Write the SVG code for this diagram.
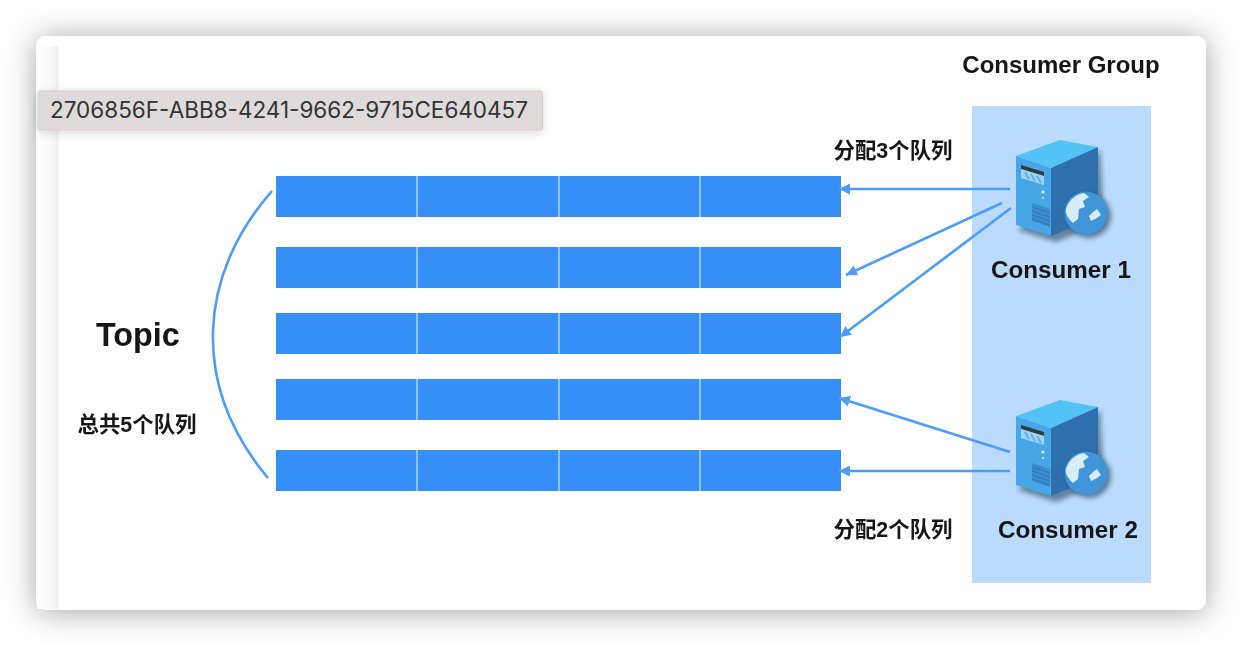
<svg xmlns="http://www.w3.org/2000/svg" width="1242" height="646" viewBox="0 0 1242 646">
<style>
.q{fill:#368ff7}
.d{stroke:#8fc1fb;stroke-width:2}
.c{fill:none;stroke:#4d9cf8;stroke-width:2.6}
.t{font-family:"Liberation Sans","Noto Sans CJK SC",sans-serif;font-weight:700;fill:#151515}
.z{font-size:21.400px}
.n{font-size:24.200px}
</style>
<defs>
<filter id="win" x="-10%" y="-15%" width="120%" height="130%"><feDropShadow dx="0" dy="2" stdDeviation="15" flood-color="#000" flood-opacity=".36"/></filter>
<filter id="tip" x="-5%" y="-30%" width="110%" height="170%"><feDropShadow dx="0" dy="2" stdDeviation="5" flood-color="#000" flood-opacity=".16"/></filter>
<filter id="sh" x="-20%" y="-20%" width="150%" height="150%"><feGaussianBlur stdDeviation="2.500"/></filter>
<filter id="soft" x="-5%" y="-5%" width="110%" height="110%"><feGaussianBlur stdDeviation=".5"/></filter>
<filter id="txt" x="-5%" y="-20%" width="110%" height="140%"><feGaussianBlur stdDeviation=".45"/></filter>
<linearGradient id="edge" x1="0" x2="1"><stop offset="0" stop-color="#fff"/><stop offset=".6" stop-color="#fafafa"/><stop offset=".96" stop-color="#f0f0f0"/><stop offset="1" stop-color="#fff"/></linearGradient>
<marker id="a" markerUnits="userSpaceOnUse" markerWidth="13" markerHeight="13" refX="11" refY="6.500" orient="auto"><path d="M11 6.500L0 1V12Z" fill="#4d9cf8"/></marker>
<g id="server" filter="url(#soft)">
<path d="M1100 150L1104 222L1056 242L1018 230Z" fill="#1d3a55" opacity=".55" filter="url(#sh)"/>
<path d="M1016 156L1060 140L1098 147L1051 168Z" fill="#53c3f6"/>
<path d="M1016 156L1051 168V236L1016 225Z" fill="#47a6e6"/>
<path d="M1051 168L1098 147V217L1051 236Z" fill="#2e6fad"/>
<path d="M1021 165L1044 172V176L1021 169Z" fill="#333a40"/>
<path d="M1021 169L1044 176V185L1021 178Z" fill="#9ed3f2"/>
<path d="M1025 172L1029 179M1031 174L1035 181M1037 176L1041 183" stroke="#5fb2e6" stroke-width="2"/>
<circle cx="1043" cy="192" r="1.6" fill="#d6f0fb"/><circle cx="1043" cy="198" r="1" fill="#d6f0fb"/>
<path d="M1032 203L1050 209V227L1032 221Z" fill="#3a8ccb"/>
<path d="M1032 207L1050 213M1032 211L1050 217M1032 215L1050 221M1032 219L1050 225" stroke="#2f78b5" stroke-width="1"/>
<circle cx="1089" cy="216" r="22" fill="#2b4863" opacity=".65" filter="url(#sh)"/>
<circle cx="1086" cy="213" r="21.500" fill="#3f95d9"/>
<path d="M1066 209C1069 199 1077 194 1084 193L1089 197L1083 201L1085 207L1079 209L1078 219L1073 223C1068 218 1065 214 1066 209ZM1093 212L1097 209L1101 215L1097 218L1091 221L1089 216Z" fill="#d8edf9"/>
</g>
</defs>
<rect width="1242" height="646" fill="#fff"/>
<rect x="36" y="36" width="1170" height="574" rx="10" fill="#fff" filter="url(#win)"/>
<rect x="37" y="46" width="22" height="563" fill="url(#edge)"/>
<rect x="972" y="106" width="179" height="477" fill="#badbfb"/>
<g id="queues" filter="url(#soft)">
<g id="queue1"><rect class="q" x="276" y="176" width="565" height="41"/><path class="d" d="M417 176V217M559 176V217M700 176V217"/></g>
<g id="queue2"><rect class="q" x="276" y="247" width="565" height="41"/><path class="d" d="M417 247V288M559 247V288M700 247V288"/></g>
<g id="queue3"><rect class="q" x="276" y="313" width="565" height="41"/><path class="d" d="M417 313V354M559 313V354M700 313V354"/></g>
<g id="queue4"><rect class="q" x="276" y="379" width="565" height="41"/><path class="d" d="M417 379V420M559 379V420M700 379V420"/></g>
<g id="queue5"><rect class="q" x="276" y="450" width="565" height="41"/><path class="d" d="M417 450V491M559 450V491M700 450V491"/></g>
</g>
<g id="connectors">
<path class="c" d="M272 191C198 275 190 385 268 478"/>
<path class="c" marker-end="url(#a)" d="M1010 189H839"/>
<path class="c" marker-end="url(#a)" d="M1002 203L846 275"/>
<path class="c" marker-end="url(#a)" d="M1011 208L840 337"/>
<path class="c" marker-end="url(#a)" d="M1010 452L839 398"/>
<path class="c" marker-end="url(#a)" d="M1010 471H839"/>
</g>
<g id="consumer1"><use href="#server"/><text class="t n" x="1061" y="278" text-anchor="middle" filter="url(#txt)">Consumer 1</text></g>
<g id="consumer2"><use href="#server" y="260"/><text class="t n" x="1068" y="538" text-anchor="middle" filter="url(#txt)">Consumer 2</text></g>
<text class="t" x="1061" y="73" font-size="24" text-anchor="middle" filter="url(#txt)">Consumer Group</text>
<text class="t" x="96" y="346" font-size="32.300" filter="url(#txt)">Topic</text>
<text class="t z" x="137" y="432" text-anchor="middle" filter="url(#txt)">总共5个队列</text>
<text class="t z" x="893" y="158" text-anchor="middle" filter="url(#txt)">分配3个队列</text>
<text class="t z" x="893" y="537" text-anchor="middle" filter="url(#txt)">分配2个队列</text>
<g id="tooltip"><rect x="38" y="91" width="504.500" height="39" rx="2" fill="#e0dadb" stroke="#d2cccd" filter="url(#tip)"/><text x="50" y="118" font-family="Inter,'DejaVu Sans',sans-serif" font-size="22.500" fill="#333">2706856F-ABB8-4241-9662-9715CE640457</text></g>
</svg>
